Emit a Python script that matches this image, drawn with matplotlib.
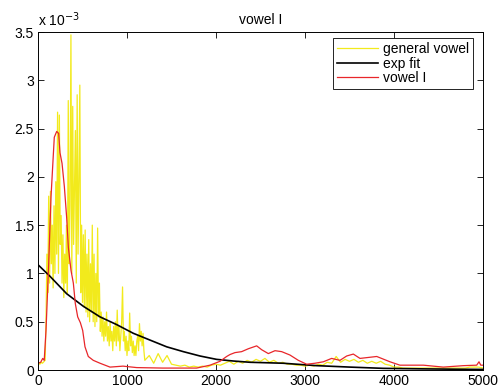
import numpy as np
import matplotlib
matplotlib.use("Agg")
import matplotlib.pyplot as plt

plt.rcParams['font.family'] = ['Liberation Sans', 'DejaVu Sans']

# general vowel spectrum (values in units of 1e-3)
freq_dense = np.arange(0, 1210, 10)
general_dense = [
    0.06, 0.07, 0.06, 0.07, 0.08, 0.07, 0.08, 0.09, 0.10, 0.50,
    1.20, 0.80, 1.80, 0.90, 1.85, 1.10, 1.50, 0.85, 1.70, 1.00,
    1.95, 1.20, 2.67, 1.00, 2.64, 1.30, 1.60, 0.90, 1.40, 0.75,
    1.20, 0.90, 1.50, 0.80, 2.79, 1.10, 1.70, 3.47, 1.00, 2.73,
    1.30, 1.90, 2.48, 0.90, 2.85, 1.20, 1.95, 2.95, 0.80, 1.50,
    0.70, 1.40, 0.65, 1.45, 0.60, 1.20, 0.55, 1.35, 0.50, 1.10,
    0.60, 1.50, 0.50, 1.20, 0.45, 1.00, 0.50, 1.47, 0.55, 0.90,
    0.40, 0.60, 0.35, 0.55, 0.30, 0.50, 0.35, 0.60, 0.30, 0.45,
    0.25, 0.50, 0.30, 0.40, 0.20, 0.45, 0.30, 0.50, 0.25, 0.62,
    0.30, 0.45, 0.20, 0.35, 0.50, 0.86, 0.30, 0.40, 0.20, 0.35,
    0.15, 0.30, 0.20, 0.59, 0.25, 0.35, 0.18, 0.30, 0.15, 0.25,
    0.15, 0.30, 0.35, 0.20, 0.48, 0.30, 0.40, 0.25, 0.38, 0.20,
    0.10,
]
freq_tail = np.arange(1250, 5050, 50)
general_tail = [
    0.15, 0.07, 0.17, 0.08, 0.15, 0.06, 0.05, 0.04, 0.05, 0.03,
    0.04, 0.03, 0.04, 0.03, 0.05, 0.06, 0.05, 0.07, 0.09, 0.06,
    0.09, 0.07, 0.10, 0.08, 0.11, 0.09, 0.12, 0.08, 0.10, 0.07,
    0.08, 0.06, 0.06, 0.05, 0.05, 0.04, 0.05, 0.04, 0.06, 0.05,
    0.08, 0.07, 0.14, 0.08, 0.11, 0.09, 0.11, 0.08, 0.10, 0.07,
    0.09, 0.07, 0.09, 0.06, 0.05, 0.03, 0.03, 0.02, 0.02, 0.02,
    0.02, 0.02, 0.02, 0.02, 0.02, 0.02, 0.02, 0.02, 0.02, 0.02,
    0.02, 0.02, 0.03, 0.03, 0.03, 0.02,
]

# exponential fit
fit_freq = [0, 135, 322, 509, 697, 884, 1071, 1258, 1446, 1633, 1820,
            2007, 2195, 2382, 2756, 3131, 3506, 3880, 4300, 4700, 5000]
fit_vals = [1.09, 0.97, 0.79, 0.66, 0.55, 0.47, 0.38, 0.31, 0.24, 0.19, 0.145,
            0.11, 0.093, 0.08, 0.07, 0.045, 0.03, 0.017, 0.012, 0.008, 0.006]

# vowel I
i_freq = [0, 30, 53, 70, 90, 120, 146, 183, 210, 232, 247, 270, 296, 322,
          341, 371, 397, 419, 446, 476, 502, 528, 565, 621, 697, 809, 955,
          1109, 1400, 1783, 1933, 2045, 2120, 2157, 2213, 2288, 2363, 2457,
          2513, 2588, 2663, 2738, 2831, 2925, 3019, 3112, 3206, 3299, 3393,
          3468, 3543, 3618, 3806, 3955, 4067, 4330, 4554, 4779, 4929, 4955,
          4975, 5000]
i_vals = [0.07, 0.08, 0.12, 0.10, 0.41, 1.10, 1.79, 2.41, 2.47, 2.45, 2.25,
          2.14, 1.90, 1.58, 1.27, 1.03, 0.90, 0.69, 0.55, 0.49, 0.41, 0.24,
          0.14, 0.10, 0.07, 0.03, 0.04, 0.025, 0.02, 0.02, 0.05, 0.09, 0.14,
          0.16, 0.18, 0.19, 0.22, 0.25, 0.21, 0.17, 0.20, 0.19, 0.155, 0.10,
          0.06, 0.07, 0.085, 0.12, 0.10, 0.145, 0.165, 0.12, 0.14, 0.085,
          0.05, 0.05, 0.03, 0.045, 0.05, 0.085, 0.05, 0.05]

fig = plt.figure(figsize=(5.01, 3.92), dpi=100)
ax = fig.add_axes([38 / 501, 1 - 370 / 392, 445 / 501, 338 / 392])

ax.plot(np.concatenate([freq_dense, freq_tail]),
        np.concatenate([general_dense, general_tail]),
        color='#f2ea1c', lw=0.9, label='general vowel')
ax.plot(fit_freq, fit_vals, color='k', lw=1.2, label='exp fit')
ax.plot(i_freq, i_vals, color='#e8262a', lw=0.9, label='vowel I')

ax.set_xlim(0, 5000)
ax.set_ylim(0, 3.5)
ax.set_xticks(range(0, 5001, 1000))
ax.set_yticks(np.arange(0, 3.6, 0.5))
ax.set_yticklabels(['0', '0.5', '1', '1.5', '2', '2.5', '3', '3.5'])
ax.tick_params(direction='in', top=True, right=True, length=4, width=0.6,
               labelsize=10, pad=3)
for s in ax.spines.values():
    s.set_linewidth(0.7)

ax.set_title('vowel I', fontsize=10, pad=6)
ax.text(0.0, 1.01, 'x 10$^{-3}$', transform=ax.transAxes, fontsize=10,
        ha='left', va='bottom')

leg = ax.legend(loc='upper right', bbox_to_anchor=(0.9775, 0.982),
                borderaxespad=0, fontsize=10, handlelength=2.95,
                borderpad=0.3, labelspacing=0.02, handletextpad=0.36,
                fancybox=False)
leg.get_frame().set_edgecolor('k')
leg.get_frame().set_linewidth(0.6)
leg.get_frame().set_alpha(1)

fig.savefig('out.png', dpi=100)
